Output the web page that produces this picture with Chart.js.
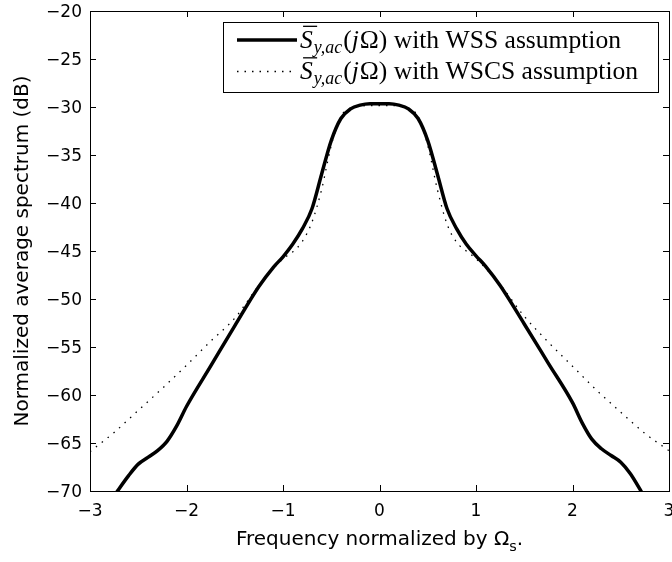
<!DOCTYPE html>
<html>
<head>
<meta charset="utf-8">
<script src="https://cdn.jsdelivr.net/npm/chart.js@4.4.1/dist/chart.umd.min.js"></script>
<style>
  html, body { margin: 0; padding: 0; background: #fff; }
  #wrap { width: 672px; height: 562px; }
</style>
</head>
<body>
<div id="wrap"><canvas id="grafico" width="672" height="562"></canvas></div>
<script>
// datos
const freqWss = [-2.75, -2.6, -2.5, -2.4, -2.3, -2.2, -2.1, -2.0, -1.75, -1.5, -1.25, -1.1, -1.0, -0.9, -0.8, -0.7, -0.6, -0.5, -0.4, -0.3, -0.2, -0.1, 0,
                 0.1, 0.2, 0.3, 0.4, 0.5, 0.6, 0.7, 0.8, 0.9, 1.0, 1.1, 1.25, 1.5, 1.75, 2.0, 2.1, 2.2, 2.3, 2.4, 2.5, 2.6, 2.75];
const dbWss = [-70.5, -68.4, -67.2, -66.5, -65.8, -64.8, -63.2, -61.2, -57.0, -52.8, -48.7, -46.7, -45.6, -44.3, -42.7, -40.6, -37.0, -33.5, -31.2, -30.2, -29.8, -29.65, -29.65,
               -29.65, -29.8, -30.2, -31.2, -33.5, -37.0, -40.6, -42.7, -44.3, -45.5, -46.6, -48.6, -52.6, -56.7, -60.8, -62.9, -64.6, -65.6, -66.3, -67.0, -68.2, -70.7];

const freqWscs = [-3.0, -2.75, -2.5, -2.25, -2.0, -1.75, -1.5, -1.25, -1.0, -0.9, -0.8, -0.7, -0.6, -0.5, -0.4, -0.3, -0.2, -0.1, 0,
                  0.1, 0.2, 0.3, 0.4, 0.5, 0.6, 0.7, 0.8, 0.9, 1.0, 1.25, 1.5, 1.75, 2.0, 2.25, 2.5, 2.75, 3.0];
const dbWscs = [-65.9, -63.9, -61.6, -59.3, -56.9, -54.4, -52.0, -48.6, -45.8, -45.1, -44.0, -42.0, -38.6, -34.0, -31.0, -30.1, -29.9, -29.85, -29.85,
                -29.85, -29.9, -30.1, -31.0, -34.0, -38.6, -42.2, -44.1, -45.0, -45.8, -48.5, -51.8, -54.5, -57.0, -59.5, -61.8, -64.0, -65.8];

const xTicks = [-3, -2, -1, 0, 1, 2, 3];
const yTicks = [-70, -65, -60, -55, -50, -45, -40, -35, -30, -25, -20];
const legendTails = [' with WSS assumption', ' with WSCS assumption'];

const SANS = '"DejaVu Sans", sans-serif';
const SERIF = '"Liberation Serif", "DejaVu Serif", serif';

function aPuntos(xs, ys) {
    return xs.map((x, i) => ({ x: x, y: ys[i] }));
}

function menos(v) {
    return String(v).replace('-', '\u2212');
}

// marco tipo MATLAB con marcas hacia adentro
const marcoPlugin = {
    id: 'marco',
    afterDatasetsDraw(chart) {
        const { ctx, chartArea: a, scales } = chart;
        const L = 6;
        ctx.save();
        ctx.strokeStyle = '#000';
        ctx.lineWidth = 1;
        ctx.beginPath();
        xTicks.forEach(v => {
            const px = Math.round(scales.x.getPixelForValue(v)) + 0.5;
            ctx.moveTo(px, a.bottom); ctx.lineTo(px, a.bottom - L);
            ctx.moveTo(px, a.top); ctx.lineTo(px, a.top + L);
        });
        yTicks.forEach(v => {
            const py = Math.round(scales.y.getPixelForValue(v)) + 0.5;
            ctx.moveTo(a.left, py); ctx.lineTo(a.left + L, py);
            ctx.moveTo(a.right, py); ctx.lineTo(a.right - L, py);
        });
        ctx.stroke();
        ctx.strokeRect(Math.round(a.left) + 0.5, Math.round(a.top) + 0.5,
                       Math.round(a.right - a.left), Math.round(a.bottom - a.top));
        ctx.restore();
    }
};

// texto tipo LaTeX: S barra con subindice y,ac (j Omega)
function textoLatex(ctx, x, y, fs, cola, dibujar) {
    let cx = x;
    ctx.font = `italic ${fs}px ${SERIF}`;
    const sw = ctx.measureText('S').width;
    if (dibujar) {
        ctx.fillText('S', cx, y);
        ctx.fillRect(cx + fs * 0.12, y - fs * 0.86, sw + fs * 0.05, 1.3);
    }
    cx += sw;
    ctx.font = `italic ${fs * 0.7}px ${SERIF}`;
    if (dibujar) ctx.fillText('y,ac', cx + 1, y + fs * 0.2);
    cx += ctx.measureText('y,ac').width + 2;
    ctx.font = `${fs}px ${SERIF}`;
    if (dibujar) ctx.fillText('(', cx, y);
    cx += ctx.measureText('(').width;
    ctx.font = `italic ${fs}px ${SERIF}`;
    if (dibujar) ctx.fillText('j', cx, y);
    cx += ctx.measureText('j').width + 1;
    ctx.font = `${fs}px ${SERIF}`;
    const resto = '\u03A9)' + cola;
    if (dibujar) ctx.fillText(resto, cx, y);
    cx += ctx.measureText(resto).width;
    return cx - x;
}

const leyendaPlugin = {
    id: 'leyenda',
    afterDraw(chart) {
        const ctx = chart.ctx;
        ctx.save();
        ctx.fillStyle = '#fff';
        ctx.fillRect(223, 22, 435, 70);
        ctx.strokeStyle = '#000';
        ctx.lineWidth = 1;
        ctx.strokeRect(223.5, 22.5, 435, 70);
        ctx.fillStyle = '#000';
        ctx.textBaseline = 'alphabetic';
        // ajustar tamano para que la primera fila mida lo mismo que en la figura
        const w0 = textoLatex(ctx, 0, 0, 20, legendTails[0], false);
        const fs = 20 * 322 / w0;
        const filas = [40, 71.5];
        // muestra linea continua
        ctx.lineWidth = 3.5;
        ctx.beginPath();
        ctx.moveTo(237, filas[0]); ctx.lineTo(297, filas[0]);
        ctx.stroke();
        // muestra punteada
        ctx.lineWidth = 1.3;
        ctx.setLineDash([1.5, 6]);
        ctx.beginPath();
        ctx.moveTo(237, filas[1]); ctx.lineTo(297, filas[1]);
        ctx.stroke();
        ctx.setLineDash([]);
        filas.forEach((fy, i) => {
            textoLatex(ctx, 300, fy + fs * 0.3, fs, legendTails[i], true);
        });
        ctx.restore();
    }
};

// titulo del eje x con subindice
const tituloXPlugin = {
    id: 'tituloX',
    afterDraw(chart) {
        const ctx = chart.ctx;
        const fs = 20;
        const p1 = 'Frequency normalized by \u03A9';
        ctx.save();
        ctx.fillStyle = '#000';
        ctx.textBaseline = 'alphabetic';
        ctx.font = `${fs}px ${SANS}`;
        const w1 = ctx.measureText(p1).width;
        const wp = ctx.measureText('.').width;
        ctx.font = `${fs * 0.72}px ${SANS}`;
        const ws = ctx.measureText('s').width;
        const total = w1 + ws + wp;
        const x0 = chart.scales.x.getPixelForValue(0) - total / 2;
        const base = 545;
        ctx.font = `${fs}px ${SANS}`;
        ctx.fillText(p1, x0, base);
        ctx.font = `${fs * 0.72}px ${SANS}`;
        ctx.fillText('s', x0 + w1, base + fs * 0.3);
        ctx.font = `${fs}px ${SANS}`;
        ctx.fillText('.', x0 + w1 + ws, base);
        ctx.restore();
    }
};

let chartEspectro = null;

function dibujarGrafico() {
    const ctx = document.getElementById('grafico');
    if (chartEspectro) chartEspectro.destroy();

    chartEspectro = new Chart(ctx, {
        type: 'line',
        data: {
            datasets: [
                {
                    label: 'WSS',
                    data: aPuntos(freqWss, dbWss),
                    borderColor: '#000',
                    borderWidth: 3.5,
                    pointRadius: 0,
                    cubicInterpolationMode: 'monotone',
                    fill: false
                },
                {
                    label: 'WSCS',
                    data: aPuntos(freqWscs, dbWscs),
                    borderColor: '#000',
                    borderWidth: 1.3,
                    borderDash: [1.5, 6],
                    pointRadius: 0,
                    cubicInterpolationMode: 'monotone',
                    fill: false
                }
            ]
        },
        options: {
            responsive: false,
            animation: false,
            devicePixelRatio: 1,
            layout: { padding: { top: 11, right: 3, left: 0, bottom: 0 } },
            plugins: {
                legend: { display: false },
                tooltip: { enabled: false }
            },
            scales: {
                x: {
                    type: 'linear',
                    min: -3,
                    max: 3,
                    afterBuildTicks: s => { s.ticks = xTicks.map(v => ({ value: v })); },
                    grid: { display: false, drawTicks: false },
                    border: { display: false },
                    ticks: {
                        color: '#000',
                        padding: 10,
                        maxRotation: 0,
                        font: { family: SANS, size: 17 },
                        callback: v => menos(v)
                    },
                    afterFit: s => {
                        s.height = 71;
                        s.paddingLeft = 0;
                        s.paddingRight = 0;
                    }
                },
                y: {
                    min: -70,
                    max: -20,
                    afterBuildTicks: s => { s.ticks = yTicks.map(v => ({ value: v })); },
                    grid: { display: false, drawTicks: false },
                    border: { display: false },
                    ticks: {
                        color: '#000',
                        padding: 8,
                        labelOffset: 2,
                        font: { family: SANS, size: 17 },
                        callback: v => menos(v)
                    },
                    title: {
                        display: true,
                        text: 'Normalized average spectrum (dB)',
                        color: '#000',
                        font: { family: SANS, size: 20 },
                        padding: { top: 11, bottom: 0 }
                    },
                    afterFit: s => {
                        s.width = 90;
                        s.paddingTop = 0;
                        s.paddingBottom = 0;
                    }
                }
            }
        },
        plugins: [marcoPlugin, leyendaPlugin, tituloXPlugin]
    });
}

dibujarGrafico();
</script>
</body>
</html>
